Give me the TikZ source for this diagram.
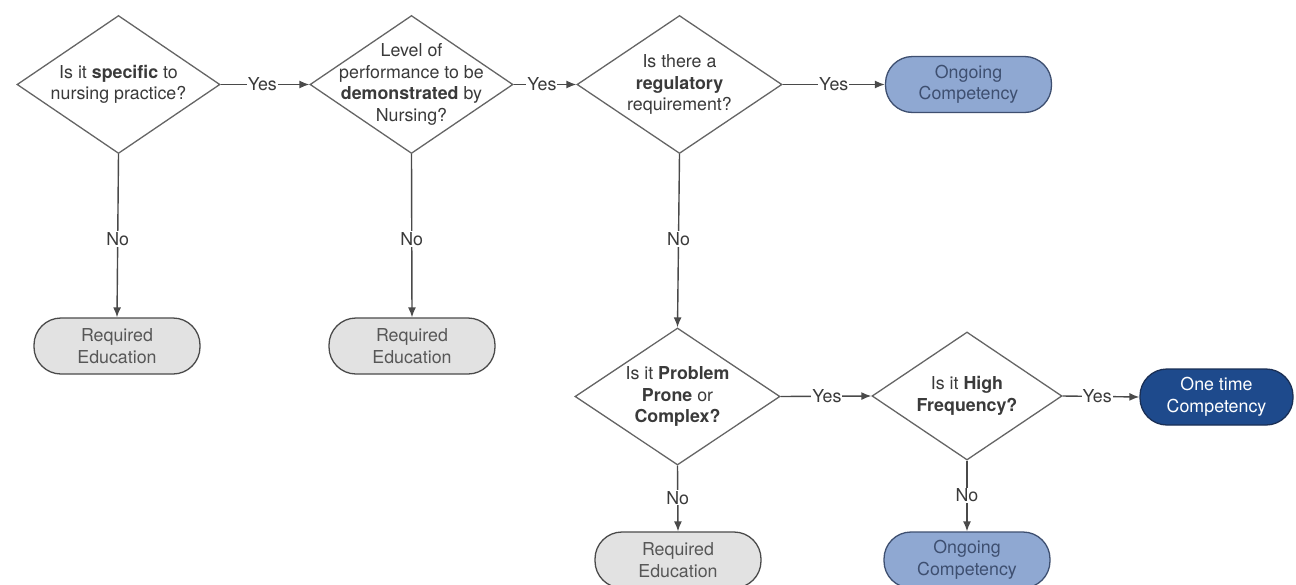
\documentclass[tikz,border=0pt]{standalone}
\usepackage{fontspec}
\setmainfont{TeX Gyre Heros}
\usetikzlibrary{shapes.geometric,arrows.meta}
\definecolor{linec}{HTML}{4A4A4A}
\definecolor{txtc}{HTML}{3A3A3A}
\definecolor{reqfill}{HTML}{E2E2E2}
\definecolor{ongfill}{HTML}{8FA8D2}
\definecolor{ongtxt}{HTML}{3E4F70}
\definecolor{onefill}{HTML}{1E4A8C}
\definecolor{oneline}{HTML}{1A2F55}
\tikzset{
  dia/.style={shape=diamond, draw=linec!85, line width=1.3pt, inner sep=0pt, minimum width=203pt, minimum height=138pt},
  diatxt/.style={align=center, text=txtc, font=\fontsize{17.8}{21.5}\selectfont, inner sep=0pt},
  term/.style={rectangle, rounded corners=27pt, line width=1.3pt, minimum width=166pt, minimum height=56pt, align=center, font=\fontsize{17.8}{21.5}\selectfont, inner sep=0pt},
  req/.style={term, draw=linec, fill=reqfill, text=txtc!85},
  ong/.style={term, draw=ongtxt, fill=ongfill, text=ongtxt},
  one/.style={term, draw=oneline, fill=onefill, text=white},
  conn/.style={draw=linec, line width=1.4pt, -{Latex[length=10pt,width=8pt]}},
  lab/.style={fill=white, text=txtc, font=\fontsize{17.8}{21.5}\selectfont, inner sep=1pt}
}
\begin{document}
\begin{tikzpicture}[x=1pt,y=-1pt]
\clip (0,0) rectangle (1296,584);
\fill[white] (0,0) rectangle (1296,584);
% diamonds
\node[dia] (d1) at (118.5,84.5) {};
\node[diatxt] at (d1) {Is it \textbf{specific} to\\nursing practice?};
\node[dia] (d2) at (411.5,84.5) {};
\node[diatxt] at (d2) {Level of\\performance to be\\\textbf{demonstrated} by\\Nursing?};
\node[dia, minimum width=205pt] (d3) at (679.5,84.5) {};
\node[diatxt] at (d3) {Is there a\\\textbf{regulatory}\\requirement?};
\node[dia, minimum width=205pt, minimum height=137pt] (d4) at (677.5,396.5) {};
\node[diatxt] at (d4) {Is it \textbf{Problem}\\\textbf{Prone} or\\\textbf{Complex?}};
\node[dia, minimum width=190pt, minimum height=128pt] (d5) at (967,396) {};
\node[diatxt] at (d5) {Is it \textbf{High}\\\textbf{Frequency?}};
% terminals
\node[req] (r1) at (117,346) {Required\\Education};
\node[req] (r2) at (412,346) {Required\\Education};
\node[req] (r3) at (678,560) {Required\\Education};
\node[ong] (o1) at (968.5,84.5) {Ongoing\\Competency};
\node[ong] (o2) at (967,560) {Ongoing\\Competency};
\node[one, minimum width=153pt] (t1) at (1216.5,397) {One time\\Competency};
% connectors
\draw[conn] (d1.east) -- node[lab, pos=0.47] {Yes} (d2.west);
\draw[conn] (d2.east) -- node[lab, pos=0.45] {Yes} (d3.west);
\draw[conn] (d3.east) -- node[lab, pos=0.5] {Yes} (o1.west);
\draw[conn] (d4.east) -- node[lab, pos=0.51] {Yes} (d5.west);
\draw[conn] (d5.east) -- node[lab, pos=0.45] {Yes} (t1.west);
\draw[conn] (d1.south) -- node[lab, pos=0.52] {No} (r1.north);
\draw[conn] (d2.south) -- node[lab, pos=0.52] {No} (r2.north);
\draw[conn] (d3.south) -- node[lab, pos=0.49] {No} (d4.north);
\draw[conn] (d4.south) -- node[lab, pos=0.49] {No} (r3.north);
\draw[conn] (d5.south) -- node[lab, pos=0.49] {No} (o2.north);
\end{tikzpicture}
\end{document}
